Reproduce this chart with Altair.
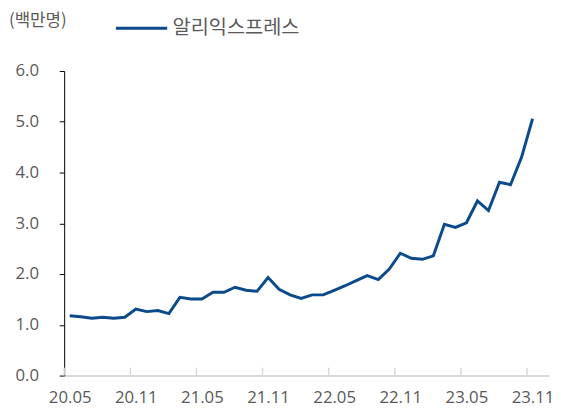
import altair as alt
import pandas as pd

months = ["20.05","20.06","20.07","20.08","20.09","20.10","20.11","20.12",
          "21.01","21.02","21.03","21.04","21.05","21.06","21.07","21.08","21.09","21.10","21.11","21.12",
          "22.01","22.02","22.03","22.04","22.05","22.06","22.07","22.08","22.09","22.10","22.11","22.12",
          "23.01","23.02","23.03","23.04","23.05","23.06","23.07","23.08","23.09","23.10","23.11"]
users = [1.18,1.16,1.13,1.15,1.13,1.15,1.31,1.26,1.28,1.22,
         1.54,1.51,1.51,1.64,1.64,1.74,1.68,1.66,1.93,1.70,
         1.59,1.52,1.59,1.59,1.68,1.77,1.87,1.97,1.89,2.10,
         2.41,2.31,2.29,2.36,2.98,2.92,3.01,3.44,3.25,3.81,
         3.76,4.30,5.06]
tick_labels = ["20.05","20.11","21.05","21.11","22.05","22.11","23.05","23.11"]
series_name = "알리익스프레스"
unit_label = "(백만명)"

df = pd.DataFrame({
    "pos": [i + 0.5 for i in range(len(months))],
    "month": months,
    "value": users,
    "series": [series_name] * len(months),
})
tick_df = pd.DataFrame({"t": [i * 6 for i in range(len(tick_labels))]})
unit_df = pd.DataFrame({"label": [unit_label]})

GRAY = "#595959"
BLUE = "#0b4a8b"
label_js = "[" + ",".join('"%s"' % s for s in tick_labels) + "]"

x_scale = alt.Scale(domain=[0, 44], nice=False, zero=False)

line = alt.Chart(df).mark_line(strokeWidth=3).encode(
    x=alt.X("pos:Q", scale=x_scale,
            axis=alt.Axis(title=None, values=[i * 6 + 0.5 for i in range(len(tick_labels))],
                          labelExpr=label_js + "[round((datum.value-0.5)/6)]",
                          ticks=False, domainColor="#d9d9d9", domainWidth=2,
                          labelColor=GRAY, labelFont="Open Sans", labelFontSize=17,
                          labelPadding=14, labelFlush=False, grid=False)),
    y=alt.Y("value:Q", scale=alt.Scale(domain=[0, 6], nice=False),
            axis=alt.Axis(title=None, values=[0, 1, 2, 3, 4, 5, 6], format=".1f",
                          tickColor="black", tickSize=5, domainColor="black", domainWidth=1,
                          labelColor=GRAY, labelFont="Open Sans", labelFontSize=17,
                          labelPadding=21, grid=False)),
    color=alt.Color("series:N", scale=alt.Scale(range=[BLUE]),
                    legend=alt.Legend(title=None, orient="none", legendX=51, legendY=-71,
                                      symbolType="stroke", symbolSize=2704, symbolStrokeWidth=3,
                                      labelFont="Noto Sans CJK KR", labelFontSize=20,
                                      labelColor=GRAY, labelOffset=4)),
)

ticks = alt.Chart(tick_df).mark_rule(color="#d9d9d9", strokeWidth=1.5).encode(
    x=alt.X("t:Q", scale=x_scale),
    y=alt.value(301),
    y2=alt.value(309),
)

unit = alt.Chart(unit_df).mark_text(
    align="left", baseline="middle", font="Noto Sans CJK KR", fontSize=17, color=GRAY
).encode(x=alt.value(-56), y=alt.value(-51), text="label:N")

chart = alt.layer(ticks, line, unit).properties(
    width=492, height=309,
    autosize=alt.AutoSizeParams(type="none"),
    padding={"left": 57, "top": 61, "right": 6, "bottom": 33},
).configure_view(stroke=None)

chart.save("out.html", embed_options={"renderer": "svg", "actions": False})
